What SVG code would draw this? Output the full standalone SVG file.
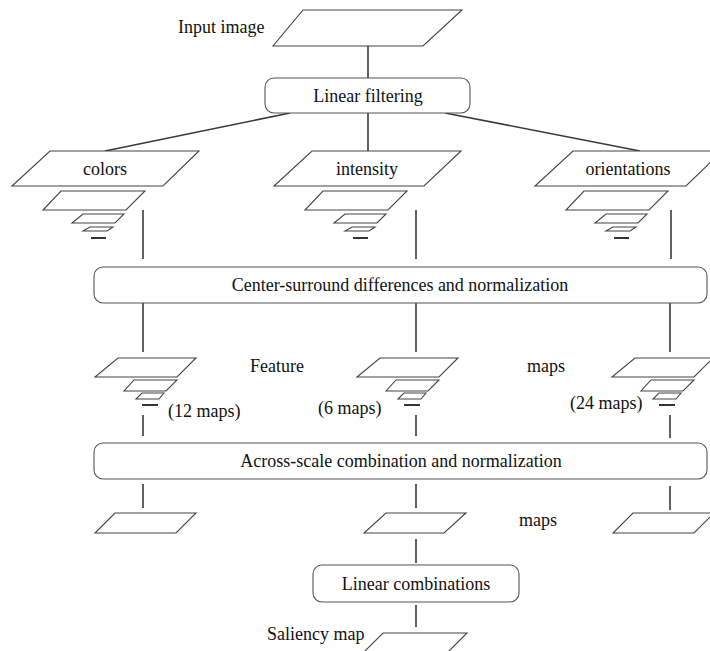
<svg xmlns="http://www.w3.org/2000/svg" width="710" height="651" viewBox="0 0 710 651">
<style>
  .t{font-family:"Liberation Serif","Times New Roman",serif;font-size:18px;fill:#111}
  .m{text-anchor:middle}
  .map{fill:#fff;stroke:#444;stroke-width:1.1}
  .box{fill:#fff;stroke:#555;stroke-width:1.1}
  .c{stroke:#3a3a3a;stroke-width:1.6;fill:none}
  .dash{stroke:#333;stroke-width:2}
</style>
<defs>
  <g id="pyr1">
    <polygon class="map" points="61,191 145,191 126,210 43,210"/>
    <polygon class="map" points="83,214 124,214 115,223 72,223"/>
    <polygon class="map" points="90,227 113,227 107,231 83,231"/>
    <line class="dash" x1="91" y1="238" x2="106" y2="238"/>
  </g>
  <g id="pyr2">
    <polygon class="map" points="118,358 196,358 177,377 95,377"/>
    <polygon class="map" points="134,380 177,380 166,391 124,391"/>
    <polygon class="map" points="142,393 164,393 159,399 136,399"/>
    <line class="dash" x1="142" y1="405" x2="158" y2="405"/>
  </g>
</defs>

<g id="connectors">
  <line class="c" x1="368" y1="46" x2="368" y2="78"/>
  <line class="c" x1="290" y1="113" x2="105" y2="151"/>
  <line class="c" x1="368" y1="113" x2="368" y2="151"/>
  <line class="c" x1="445" y1="113" x2="640" y2="151"/>
  <line class="c" x1="143" y1="210" x2="143" y2="259"/>
  <line class="c" x1="416" y1="210" x2="416" y2="259"/>
  <line class="c" x1="671" y1="210" x2="671" y2="259"/>
  <line class="c" x1="143" y1="303" x2="143" y2="352"/>
  <line class="c" x1="416" y1="303" x2="416" y2="352"/>
  <line class="c" x1="670" y1="303" x2="670" y2="352"/>
  <line class="c" x1="143" y1="415" x2="143" y2="436"/>
  <line class="c" x1="416" y1="415" x2="416" y2="436"/>
  <line class="c" x1="670" y1="415" x2="670" y2="438"/>
  <line class="c" x1="143" y1="484" x2="143" y2="508"/>
  <line class="c" x1="416" y1="484" x2="416" y2="508"/>
  <line class="c" x1="670" y1="486" x2="670" y2="510"/>
  <line class="c" x1="416" y1="539" x2="416" y2="563"/>
  <line class="c" x1="416" y1="605" x2="416" y2="627"/>
</g>

<g id="input-image">
  <polygon class="map" points="303,10 462,10 423,46 273,46"/>
  <text class="t" x="178" y="33">Input image</text>
</g>

<g id="linear-filtering">
  <rect class="box" x="265" y="78" width="205" height="35" rx="9"/>
  <text class="t m" x="368" y="102">Linear filtering</text>
</g>

<g id="colors">
  <polygon class="map" points="50,151 199,151 163,186 12,186"/>
  <text class="t m" x="105" y="175">colors</text>
  <use href="#pyr1"/>
</g>
<g id="intensity">
  <polygon class="map" points="312,151 461,151 424,186 274,186"/>
  <text class="t m" x="367" y="175">intensity</text>
  <use href="#pyr1" x="262"/>
</g>
<g id="orientations">
  <polygon class="map" points="573,151 722,151 686,186 535,186"/>
  <text class="t m" x="628" y="175">orientations</text>
  <use href="#pyr1" x="523"/>
</g>

<g id="center-surround">
  <rect class="box" x="94" y="267" width="613" height="36" rx="9"/>
  <text class="t m" x="400" y="291">Center-surround differences and normalization</text>
</g>

<g id="feature-colors">
  <use href="#pyr2"/>
  <text class="t" x="168" y="417">(12 maps)</text>
</g>
<g id="feature-intensity">
  <use href="#pyr2" x="262"/>
  <text class="t" x="318" y="414">(6 maps)</text>
</g>
<g id="feature-orientations">
  <use href="#pyr2" x="517"/>
  <text class="t" x="570" y="409">(24 maps)</text>
</g>
<g id="feature-label">
  <text class="t" x="250" y="372">Feature</text>
  <text class="t" x="527" y="372">maps</text>
</g>

<g id="across-scale">
  <rect class="box" x="94" y="443" width="613" height="36" rx="9"/>
  <text class="t m" x="401" y="467">Across-scale combination and normalization</text>
</g>

<g id="conspicuity-colors">
  <polygon class="map" points="115,513 196,513 176,533 95,533"/>
</g>
<g id="conspicuity-intensity">
  <polygon class="map" points="386,513 466,513 444,533 364,533"/>
</g>
<g id="conspicuity-orientations">
  <polygon class="map" points="633,513 714,513 694,533 613,533"/>
</g>
<g id="conspicuity-label">
  <text class="t" x="519" y="526">maps</text>
</g>

<g id="linear-combinations">
  <rect class="box" x="313" y="565" width="206" height="37" rx="9"/>
  <text class="t m" x="416" y="590">Linear combinations</text>
</g>

<g id="saliency-map">
  <polygon class="map" points="383,633 467,633 447,653 363,653"/>
  <text class="t" x="267" y="640">Saliency map</text>
</g>
</svg>
